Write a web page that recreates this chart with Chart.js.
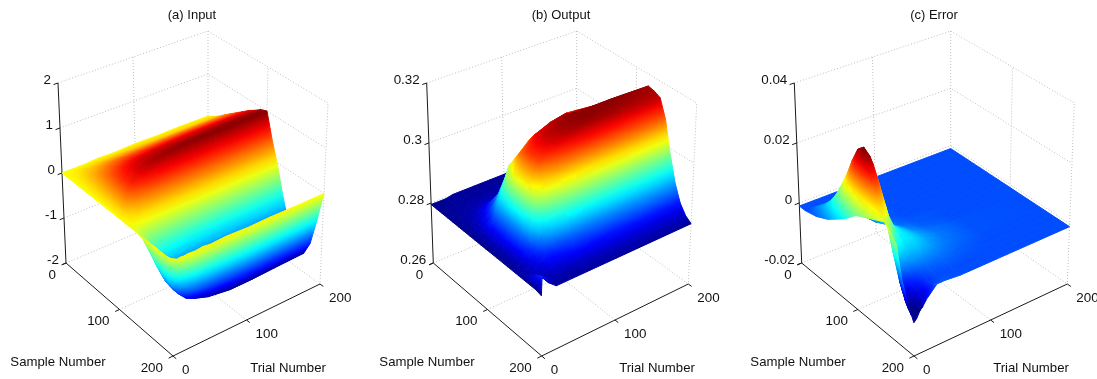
<!DOCTYPE html>
<html>
<head>
<meta charset="utf-8">
<script src="https://cdn.jsdelivr.net/npm/chart.js@4/dist/chart.umd.min.js"></script>
<style>
  html, body { margin: 0; padding: 0; background: #fff; overflow: hidden; width: 1097px; height: 379px; }
  canvas { position: absolute; top: 0; }
</style>
</head>
<body>
<canvas id="inputChart"></canvas>
<canvas id="outputChart"></canvas>
<canvas id="errorChart"></canvas>
<script>
// Rows follow sampleValues, columns follow the trial list of each panel.
const sampleValues = [0, 10, 20, 30, 40, 50, 60, 70, 80, 90, 100, 110, 120, 130, 140, 150, 160, 170, 180, 190, 200];
const sampleTicks = [0, 100, 200];
const trialTicks = [0, 100, 200];

const inputTrials = [0, 5, 10, 15, 20, 30, 40, 50, 70, 100, 130, 160, 200];
const inputTicks = [-2, -1, 0, 1, 2];
const inputValues = [
  [0, 0, 0, 0, 0, 0, .01, .02, .01, .03, .02, .03, .02],
  [0, .02, .04, .06, .07, .08, .09, .09, .1, .1, .1, .1, .1],
  [0, .03, .07, .11, .14, .16, .18, .19, .2, .2, .2, .2, .2],
  [0, .05, .11, .17, .2, .25, .28, .29, .3, .31, .32, .32, .32],
  [0, .06, .15, .22, .28, .34, .38, .4, .41, .42, .43, .43, .43],
  [0, .07, .18, .28, .35, .43, .47, .5, .52, .53, .54, .54, .54],
  [0, .09, .22, .34, .43, .52, .57, .6, .62, .64, .65, .65, .65],
  [0, .1, .25, .39, .5, .61, .67, .7, .73, .75, .76, .76, .76],
  [0, .11, .28, .44, .56, .69, .76, .8, .83, .84, .85, .85, .85],
  [0, .12, .3, .47, .6, .74, .82, .86, .9, .93, .94, .95, .95],
  [0, .12, .3, .47, .61, .76, .86, .91, .96, .99, 1, 1, 1],
  [0, .05, .13, .2, .26, .33, .37, .39, .41, .42, .42, .42, .42],
  [0, -.01, -.02, -.02, -.03, -.04, -.04, -.05, -.05, -.05, -.05, -.05, -.05],
  [0, -.08, -.19, -.3, -.38, -.47, -.53, -.56, -.6, -.64, -.64, -.63, -.62],
  [0, -.13, -.33, -.52, -.66, -.83, -.94, -1, -1.07, -1.12, -1.12, -1.1, -1.1],
  [0, -.17, -.43, -.67, -.85, -1.07, -1.21, -1.29, -1.38, -1.45, -1.45, -1.43, -1.42],
  [0, -.19, -.48, -.75, -.96, -1.2, -1.36, -1.44, -1.55, -1.62, -1.62, -1.6, -1.58],
  [0, -.19, -.48, -.75, -.96, -1.2, -1.36, -1.44, -1.55, -1.62, -1.62, -1.6, -1.58],
  [0, -.15, -.38, -.6, -.77, -.96, -1.09, -1.15, -1.22, -1.3, -1.32, -1.3, -1.28],
  [0, -.08, -.2, -.32, -.41, -.51, -.58, -.61, -.65, -.7, -.71, -.7, -.68],
  [0, 0, .01, 0, .01, 0, .02, 0, .02, 0, .01, 0, 0]
];

const outputTrials = [0, 1, 5, 10, 20, 30, 40, 60, 80, 100, 150, 200];
const outputTicks = [0.26, 0.28, 0.3, 0.32];
const outputValues = [
  [.2795, .2795, .2795, .2795, .2795, .28, .28, .28, .28, .28, .28, .28],
  [.2795, .2795, .2795, .2797, .28, .28, .28, .28, .28, .28, .28, .28],
  [.2795, .2795, .2796, .28, .28, .2802, .2802, .2803, .2804, .2804, .2804, .2804],
  [.2795, .2795, .28, .28, .2802, .2804, .2807, .2809, .281, .281, .2811, .2811],
  [.2795, .2796, .28, .2801, .2805, .281, .2815, .282, .2822, .2824, .2825, .2825],
  [.2795, .2796, .28, .2803, .281, .282, .2833, .2845, .2847, .2849, .285, .285],
  [.2795, .2796, .2801, .2806, .2818, .2838, .286, .288, .2885, .2886, .2886, .2886],
  [.2795, .2796, .2802, .281, .283, .286, .2895, .292, .293, .2937, .2937, .2937],
  [.2795, .2796, .2802, .2813, .2845, .29, .295, .2995, .3005, .301, .301, .301],
  [.2795, .2796, .2803, .2816, .2875, .295, .3015, .305, .3065, .307, .3075, .3075],
  [.2795, .2797, .2803, .2818, .288, .2985, .305, .3095, .3115, .312, .312, .312],
  [.2795, .2797, .2803, .2818, .2885, .3025, .3085, .3125, .3145, .3155, .314, .3135],
  [.2795, .2797, .2803, .2818, .289, .304, .31, .314, .3155, .3165, .3165, .316],
  [.2795, .2797, .2803, .2818, .289, .3045, .3105, .3145, .316, .3165, .3165, .3155],
  [.2795, .2797, .2803, .2818, .2885, .3035, .3095, .3135, .315, .316, .315, .3145],
  [.2795, .28, .2803, .2815, .287, .2985, .304, .3065, .3075, .308, .3085, .3085],
  [.2795, .2805, .2806, .2812, .2845, .2895, .2935, .2965, .297, .2975, .298, .298],
  [.2795, .281, .281, .2812, .283, .2845, .2855, .2875, .288, .2885, .2897, .2897],
  [.2795, .2825, .282, .2815, .2815, .2825, .2825, .2835, .2838, .284, .2843, .2843],
  [.2795, .284, .283, .282, .2805, .281, .2805, .281, .2811, .2812, .2814, .2814],
  [.279, .285, .284, .282, .28, .28, .28, .28, .28, .28, .28, .28]
];

const errorTrials = [0, 4, 8, 12, 16, 20, 30, 40, 60, 80, 120, 200];
const errorTicks = [-0.02, 0, 0.02, 0.04];
const errorValues = [
  [-.001, -.001, -.001, -.001, -.001, -.001, -.001, -.001, -.001, -.001, -.001, -.001],
  [-.001, -.001, -.001, -.001, -.001, -.001, -.001, -.001, -.001, -.001, -.001, -.001],
  [-.0005, 0, .001, .001, .0005, 0, -.0005, -.001, -.001, -.001, -.001, -.001],
  [0, .001, .0025, .003, .0025, .0015, 0, -.0005, -.001, -.001, -.001, -.001],
  [.001, .0025, .0045, .0055, .0045, .003, .0005, -.0005, -.001, -.001, -.001, -.001],
  [.002, .004, .007, .009, .0075, .005, .0015, 0, -.001, -.001, -.001, -.001],
  [.0035, .006, .0105, .0135, .0115, .0075, .0025, .0005, -.0005, -.001, -.001, -.001],
  [.005, .0085, .0145, .0185, .0155, .0105, .0035, .001, -.0005, -.001, -.001, -.001],
  [.0065, .0115, .02, .0245, .0205, .0135, .005, .0015, 0, -.001, -.001, -.001],
  [.0085, .015, .026, .0295, .0265, .0175, .0065, .0025, 0, -.0005, -.001, -.001],
  [.0105, .018, .029, .0315, .0285, .0205, .008, .0035, .001, -.0005, -.001, -.001],
  [.0115, .019, .0285, .03, .027, .0195, .008, .0045, .0015, 0, -.001, -.001],
  [.0125, .018, .025, .0255, .022, .0165, .0075, .005, .002, .0005, -.0008, -.001],
  [.0135, .0165, .02, .019, .0165, .0125, .0065, .005, .0025, .0008, -.0008, -.001],
  [.0145, .0155, .0145, .0135, .0105, .0085, .0055, .005, .0025, .0008, -.0008, -.001],
  [.0155, .0135, .0105, .0095, .0065, .0055, .004, .004, .002, .0005, -.0008, -.001],
  [.0135, .006, .002, .001, .001, .0015, .002, .002, .001, 0, -.001, -.001],
  [.011, -.001, -.005, -.005, -.004, -.003, -.001, -.0002, 0, -.0005, -.001, -.001],
  [.0005, -.006, -.009, -.009, -.0075, -.0055, -.002, -.001, -.0008, -.001, -.001, -.001],
  [-.005, -.009, -.0105, -.0095, -.008, -.006, -.002, -.001, -.001, -.001, -.001, -.001],
  [-.0095, -.0085, -.0065, -.0055, -.004, -.003, -.0005, -.0005, -.001, -.001, -.001, -.001]
];

const FONT = '"Liberation Sans", Arial, sans-serif';
const titleHeight = 8 + 13 * 1.2 + 4;

const panels = [
  { id: 'inputChart', title: '(a) Input', left: 0, width: 384, trials: inputTrials, z: inputValues, zTicks: inputTicks,
    zLabels: ['-2', '-1', '0', '1', '2'], zMin: -2, zMax: 2, colorMin: -1.7, colorMax: 1.02,
    sampleLabelAt: [58, 362], trialLabelAt: [288, 368],
    // box corners on the page: [left, front, right, back], floor and roof
    floor: [[66, 263], [173, 356], [320, 284], [208, 203]],
    roof: [[58, 83], [172, 166], [328, 103], [208, 31]] },
  { id: 'outputChart', title: '(b) Output', left: 375, width: 372, trials: outputTrials, z: outputValues, zTicks: outputTicks,
    zLabels: ['0.26', '0.28', '0.3', '0.32'], zMin: 0.26, zMax: 0.32, colorMin: 0.279, colorMax: 0.317,
    sampleLabelAt: [427, 362], trialLabelAt: [657, 368],
    floor: [[433.3, 263], [541.7, 356], [688.3, 284], [576.7, 203]],
    roof: [[426.7, 83], [540.7, 166], [696.7, 103], [576.7, 31]] },
  { id: 'errorChart', title: '(c) Error', left: 745, width: 378, trials: errorTrials, z: errorValues, zTicks: errorTicks,
    zLabels: ['-0.02', '0', '0.02', '0.04'], zMin: -0.02, zMax: 0.04, colorMin: -0.009, colorMax: 0.031,
    sampleLabelAt: [798, 362], trialLabelAt: [1031, 368],
    floor: [[801.7, 263], [914, 356], [1067.3, 284], [950.7, 203]],
    roof: [[794.3, 83], [913, 166], [1074.3, 103], [950.7, 31]] }
];

// Box coordinates to the flat coordinates that the chart's x and y scales use.
function project(panel, sample, trial, value) {
  const u = sample / 200, v = trial / 200;
  const w = (value - panel.zMin) / (panel.zMax - panel.zMin);
  const at = (corners, k) =>
    (1 - u) * (1 - v) * corners[0][k] + u * (1 - v) * corners[1][k] +
    u * v * corners[2][k] + (1 - u) * v * corners[3][k];
  return {
    x: (1 - w) * at(panel.floor, 0) + w * at(panel.roof, 0),
    y: (1 - w) * at(panel.floor, 1) + w * at(panel.roof, 1)
  };
}

function jet(c) {
  c = Math.min(1, Math.max(0, c));
  const ramp = (d) => Math.min(1, Math.max(0, 1.5 - Math.abs(4 * c - d)));
  return `rgb(${Math.round(255 * ramp(3))},${Math.round(255 * ramp(2))},${Math.round(255 * ramp(1))})`;
}

// A linear gradient over one cell so the colours run smoothly between its four values.
function cellPaint(chart, points, shades) {
  const sx = chart.scales.x, sy = chart.scales.y;
  const p = points.map((q) => ({ x: sx.getPixelForValue(q.x), y: sy.getPixelForValue(q.y) }));
  const mean = (shades[0] + shades[1] + shades[2] + shades[3]) / 4;
  if (!p.every((q) => isFinite(q.x) && isFinite(q.y))) return jet(mean);
  const es = { x: (p[1].x - p[0].x + p[2].x - p[3].x) / 2, y: (p[1].y - p[0].y + p[2].y - p[3].y) / 2 };
  const et = { x: (p[3].x - p[0].x + p[2].x - p[1].x) / 2, y: (p[3].y - p[0].y + p[2].y - p[1].y) / 2 };
  const ds = (shades[1] - shades[0] + shades[2] - shades[3]) / 2;
  const dt = (shades[3] - shades[0] + shades[2] - shades[1]) / 2;
  const det = es.x * et.y - es.y * et.x;
  if (Math.abs(det) < 4) return jet(mean);
  const a = (ds * et.y - dt * es.y) / det, b = (dt * es.x - ds * et.x) / det;
  const g = Math.hypot(a, b);
  if (g < 1e-5) return jet(mean);
  const cx = (p[0].x + p[1].x + p[2].x + p[3].x) / 4, cy = (p[0].y + p[1].y + p[2].y + p[3].y) / 4;
  const along = p.map((q) => ((q.x - cx) * a + (q.y - cy) * b) / g);
  const lo = Math.min(...along), hi = Math.max(...along);
  const grad = chart.ctx.createLinearGradient(cx + lo * a / g, cy + lo * b / g, cx + hi * a / g, cy + hi * b / g);
  const stops = Math.max(2, Math.ceil((hi - lo) * g * 16) + 1);
  for (let i = 0; i < stops; i++) {
    const f = i / (stops - 1);
    grad.addColorStop(f, jet(mean + g * (lo + (hi - lo) * f)));
  }
  return grad;
}

function polyline(points, color, width, dash) {
  return { data: points, showLine: true, pointRadius: 0, borderColor: color, borderWidth: width, borderDash: dash || [], fill: false, clip: false };
}

function surfaceDatasets(panel) {
  const rows = sampleValues.length, cols = panel.trials.length;
  const cells = [];
  const shade = (v) => (v - panel.colorMin) / (panel.colorMax - panel.colorMin);
  // far corner of the box first, the first dataset ends up drawn last
  for (let i = 0; i < rows - 1; i++) {
    for (let j = cols - 2; j >= 0; j--) {
      const corners = [[i, j], [i + 1, j], [i + 1, j + 1], [i, j + 1]];
      const points = corners.map(([r, c]) => project(panel, sampleValues[r], panel.trials[c], panel.z[r][c]));
      const shades = corners.map(([r, c]) => shade(panel.z[r][c]));
      const paint = (ctx) => cellPaint(ctx.chart, points, shades);
      cells.push({
        data: points.concat([points[0]]), showLine: true, pointRadius: 0, fill: 'shape', clip: false,
        backgroundColor: paint, borderColor: paint, borderWidth: 1, borderJoinStyle: 'round'
      });
    }
  }
  return cells.reverse();
}

function boxDatasets(panel) {
  const grid = [], axes = [];
  const GRID = '#bdbdbd', INK = '#1a1a1a';
  const { zMin, zMax } = panel;
  const P = (s, t, z) => project(panel, s, t, z);
  const dotted = (pts) => grid.push(polyline(pts, GRID, 1, [1, 2]));
  dotted([P(0, 200, zMin), P(0, 200, zMax)]);
  dotted([P(0, 0, zMax), P(0, 200, zMax), P(200, 200, zMax), P(200, 200, zMin)]);
  dotted([P(0, 0, zMin), P(0, 200, zMin), P(200, 200, zMin)]);
  panel.zTicks.forEach((z) => {
    if (z !== zMin && z !== zMax) dotted([P(0, 0, z), P(0, 200, z), P(200, 200, z)]);
  });
  dotted([P(100, 0, zMin), P(100, 200, zMin), P(100, 200, zMax)]);
  dotted([P(0, 100, zMax), P(0, 100, zMin), P(200, 100, zMin)]);

  axes.push(polyline([P(0, 0, zMax), P(0, 0, zMin), P(200, 0, zMin), P(200, 200, zMin)], INK, 1));
  panel.zTicks.forEach((z) => axes.push(polyline([P(0, 0, z), P(0, -6, z)], INK, 1)));
  sampleTicks.forEach((s) => axes.push(polyline([P(s, 0, panel.zMin), P(s, -6, panel.zMin)], INK, 1)));
  trialTicks.forEach((t) => axes.push(polyline([P(200, t, panel.zMin), P(206, t, panel.zMin)], INK, 1)));
  return axes.concat(grid);
}

const tickLabels = {
  id: 'tickLabels',
  afterDraw(chart, args, opts) {
    const panel = opts.panel;
    const ctx = chart.ctx, sx = chart.scales.x, sy = chart.scales.y;
    const put = (text, x, y, align) => {
      ctx.textAlign = align;
      ctx.fillText(text, sx.getPixelForValue(x), sy.getPixelForValue(y));
    };
    ctx.save();
    ctx.fillStyle = '#111';
    ctx.font = '13.4px ' + FONT;
    ctx.textBaseline = 'middle';
    panel.zTicks.forEach((z, i) => {
      const p = project(panel, 0, 0, z);
      put(panel.zLabels[i], p.x - 7, p.y - 3, 'right');
    });
    sampleTicks.forEach((s) => {
      const p = project(panel, s, 0, panel.zMin);
      put(String(s), p.x - 10, p.y + 12, 'right');
    });
    trialTicks.forEach((t) => {
      const p = project(panel, 200, t, panel.zMin);
      put(String(t), p.x + 9, p.y + 14, 'left');
    });
    ctx.font = '13.2px ' + FONT;
    put('Sample Number', panel.sampleLabelAt[0], panel.sampleLabelAt[1], 'center');
    put('Trial Number', panel.trialLabelAt[0], panel.trialLabelAt[1], 'center');
    ctx.restore();
  }
};

panels.forEach((panel) => {
  const canvas = document.getElementById(panel.id);
  canvas.style.left = panel.left + 'px';
  canvas.width = panel.width;
  canvas.height = 379;
  new Chart(canvas.getContext('2d'), {
    type: 'scatter',
    data: { datasets: surfaceDatasets(panel).concat(boxDatasets(panel)) },
    options: {
      responsive: false,
      animation: false,
      events: [],
      layout: { padding: 0 },
      scales: {
        x: { type: 'linear', display: false, min: panel.left, max: panel.left + panel.width },
        y: { type: 'linear', display: false, reverse: true, min: titleHeight, max: 379 }
      },
      plugins: {
        legend: { display: false },
        tooltip: { enabled: false },
        title: {
          display: true, text: panel.title, color: '#111',
          font: { family: FONT, size: 13, weight: 'normal', lineHeight: 1.2 },
          padding: { top: 8, bottom: 4 }
        },
        tickLabels: { panel: panel }
      }
    },
    plugins: [tickLabels]
  });
});
</script>
</body>
</html>
